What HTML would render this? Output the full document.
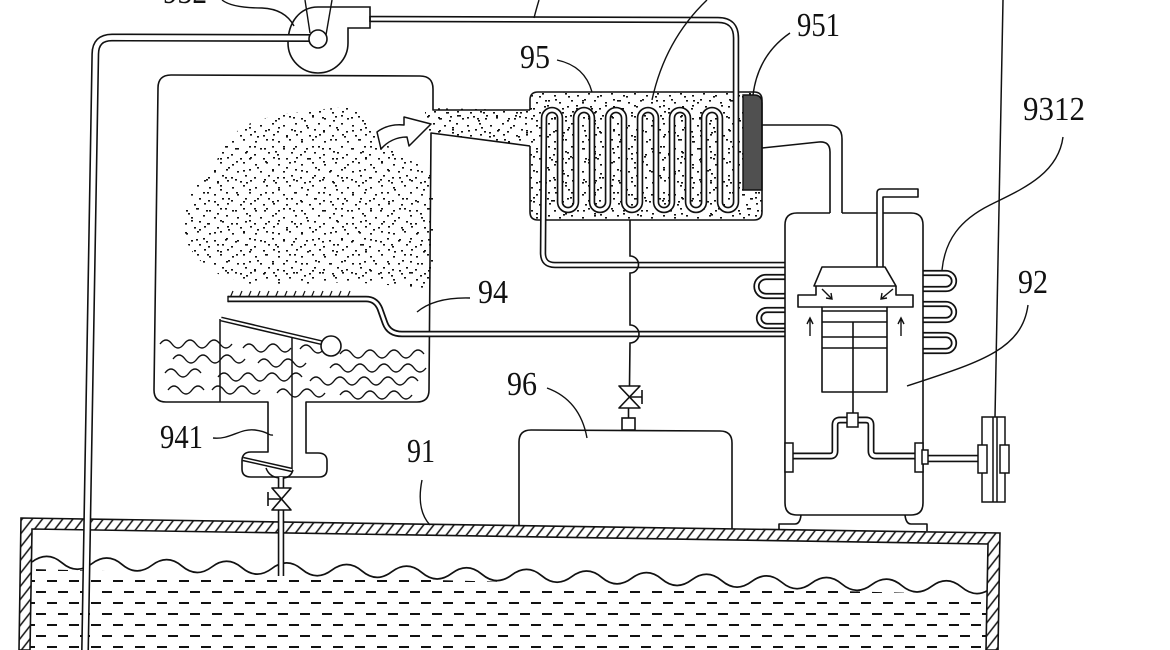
<!DOCTYPE html>
<html><head><meta charset="utf-8"><style>
html,body{margin:0;padding:0;background:#fff;}
svg{display:block;}
text{font-family:"Liberation Serif",serif;font-size:34px;fill:#111;}
</style></head><body>
<svg width="1170" height="650" viewBox="0 0 1170 650" xmlns="http://www.w3.org/2000/svg">
<defs>
<pattern id="dA" width="23" height="23" patternUnits="userSpaceOnUse">
<g fill="#111"><rect x="2" y="3" width="2" height="1.6"/><rect x="13" y="1" width="2" height="1.6"/><rect x="19" y="8" width="2" height="1.6"/><rect x="7" y="10" width="2" height="1.6"/><rect x="15" y="14" width="2" height="1.6"/><rect x="1" y="16" width="2" height="1.6"/><rect x="10" y="20" width="2" height="1.6"/><rect x="20" y="19" width="2" height="1.6"/></g>
</pattern>
<pattern id="dB" width="29" height="31" patternUnits="userSpaceOnUse">
<g fill="#111"><rect x="4" y="6" width="2" height="1.6"/><rect x="17" y="3" width="2" height="1.6"/><rect x="25" y="12" width="2" height="1.6"/><rect x="11" y="15" width="2" height="1.6"/><rect x="22" y="22" width="2" height="1.6"/><rect x="3" y="24" width="2" height="1.6"/><rect x="14" y="27" width="2" height="1.6"/></g>
</pattern>
<pattern id="dC" width="37" height="41" patternUnits="userSpaceOnUse">
<g fill="#111"><rect x="8" y="9" width="2" height="1.6"/><rect x="27" y="18" width="2" height="1.6"/><rect x="15" y="33" width="2" height="1.6"/><rect x="33" y="36" width="2" height="1.6"/><rect x="2" y="30" width="2" height="1.6"/></g>
</pattern>
<pattern id="hatch" width="8" height="8" patternUnits="userSpaceOnUse" patternTransform="rotate(38)">
<line x1="1" y1="0" x2="1" y2="8" stroke="#111" stroke-width="1.5"/>
</pattern>
<pattern id="dash" x="36" y="565" width="22" height="22" patternUnits="userSpaceOnUse">
<rect x="0" y="4" width="10" height="2" fill="#111"/>
<rect x="11" y="15" width="10" height="2" fill="#111"/>
</pattern>
<pattern id="tk" x="229" y="290" width="9" height="8" patternUnits="userSpaceOnUse">
<path d="M1 8 L4 1" stroke="#111" stroke-width="1.2" fill="none"/>
</pattern>
<clipPath id="cloud"><path d="M433 170 L433 290 L400 286 L350 282 L300 284 L250 284 L220 275 C203 265 192 255 186 240 C181 225 184 205 192 192 C200 178 210 168 218 158 C225 145 232 135 242 127 C260 118 280 114 300 112 C318 110 335 107 352 107 C362 110 368 122 378 135 C390 150 405 160 433 170 Z"/></clipPath>
<clipPath id="duct"><path d="M425 108 L531 110 L531 146 L433 133 L425 133 Z"/></clipPath>
<clipPath id="evap"><rect x="530" y="92" width="232" height="128" rx="8"/></clipPath>
<clipPath id="tankin"><path d="M32 529 L988 544 L986 650 L30 650 Z"/></clipPath>
<clipPath id="under"><path d="M32 569 L988 595 L986 650 L30 650 Z"/></clipPath>
<path id="coil" d="M370 19 L718 20 Q736 20 736 38 L736 202 A8 8 0 0 1 720 202 L720 118 A8 8 0 0 0 704 118 L704 202 A8 8 0 0 1 688 202 L688 118 A8 8 0 0 0 672 118 L672 202 A8 8 0 0 1 656 202 L656 118 A8 8 0 0 0 640 118 L640 202 A8 8 0 0 1 624 202 L624 118 A8 8 0 0 0 608 118 L608 202 A8 8 0 0 1 592 202 L592 118 A8 8 0 0 0 576 118 L576 202 A8 8 0 0 1 560 202 L560 118 A8 8 0 0 0 544 118 L543 253 Q543 265 555 265 L785 265"/>
<path id="lpipe" d="M312 38 L112 37.5 Q95.5 37.5 95.3 54 L85 652"/>
<path id="tray" d="M228 299 L366 299 Q376 299 380 309 L385 323 Q389 334 402 334 L785 334"/>
<path id="p941" d="M281 477 L281 488 M281 510 L281 576"/>
<path id="hair" d="M923 273 L946 273 A8 8 0 0 1 946 289 L923 289 M923 304 L946 304 A8 8 0 0 1 946 320 L923 320 M923 335 L946 335 A8 8 0 0 1 946 351 L923 351 M785 277 L766 277 A9.5 9.5 0 0 0 766 296 L785 296 M785 310 L767 310 A8 8 0 0 0 767 326 L785 326"/>
<path id="crank" d="M847 420 L840 420 Q835 420 835 425 L835 451 Q835 456 830 456 L792 456 M858 420 L866 420 Q871 420 871 425 L871 451 Q871 456 876 456 L915 456"/>
<path id="lever" d="M221 319 L323 343"/>
<path id="flap" d="M243 459 L292 470"/>
</defs>

<rect width="1170" height="650" fill="#fff"/>

<!-- ===== water tank 91 ===== -->
<g clip-path="url(#tankin)">
<g transform="rotate(1.55 32 562)">
<path d="M32 562 Q47 550 62 562 t30 0 t30 0 t30 0 t30 0 t30 0 t30 0 t30 0 t30 0 t30 0 t30 0 t30 0 t30 0 t30 0 t30 0 t30 0 t30 0 t30 0 t30 0 t30 0 t30 0 t30 0 t30 0 t30 0 t30 0 t30 0 t30 0 t30 0 t30 0 t30 0 t30 0 t30 0" fill="none" stroke="#111" stroke-width="1.7"/>
</g>
<rect x="20" y="540" width="980" height="112" fill="url(#dash)" clip-path="url(#under)"/>
</g>
<path d="M21 518 L1000 533 L998 650 L986 650 L988 544 L32 529 L30 650 L19 650 Z" fill="#fff"/>
<path d="M21 518 L1000 533 L998 650 L986 650 L988 544 L32 529 L30 650 L19 650 Z" fill="url(#hatch)" stroke="#111" stroke-width="1.6"/>

<!-- ===== stippling ===== -->
<g clip-path="url(#cloud)"><rect x="150" y="100" width="290" height="200" fill="url(#dA)"/><rect x="150" y="100" width="290" height="200" fill="url(#dB)"/></g>
<g clip-path="url(#duct)"><rect x="420" y="100" width="120" height="50" fill="url(#dA)"/><rect x="420" y="100" width="120" height="50" fill="url(#dB)"/><rect x="420" y="100" width="120" height="50" fill="url(#dC)"/></g>
<g clip-path="url(#evap)"><rect x="525" y="88" width="240" height="135" fill="url(#dA)"/><rect x="525" y="88" width="240" height="135" fill="url(#dB)"/><rect x="525" y="88" width="240" height="135" fill="url(#dC)"/></g>

<!-- filter 951 -->
<path d="M743 95 L754 95 Q762 95 762 103 L762 190 L743 190 Z" fill="#505050" stroke="#111" stroke-width="1.4"/>

<g fill="none" stroke="#111" stroke-width="1.6" stroke-linejoin="round">
<path d="M530 110 L433 110 L433 89 Q433 76 420 76 L171 75 Q158 75 158 88 L154 390 Q154 402 166 402 L268 402 L268 452 L251 452 Q242 452 242 461 L242 469 Q242 477 251 477 L319 477 Q327 477 327 469 L327 461 Q327 453 318 453 L306 453 L306 402 L417 402 Q429 402 429 390 L431 133 L530 146"/>
<path d="M530 110 L530 100 Q530 92 538 92 L754 92 Q762 92 762 100 L762 212 Q762 220 754 220 L538 220 Q530 220 530 212 L530 146"/>
</g>

<!-- coil + top pipe -->
<use href="#coil" fill="none" stroke="#111" stroke-width="6.5"/>
<use href="#coil" fill="none" stroke="#fff" stroke-width="3.2"/>

<!-- blower -->
<path d="M370 7 L318 7 C300 7 288 22 288 43 A30 30 0 0 0 348 43 L348 28 L370 28 Z" fill="#fff" stroke="#111" stroke-width="1.6"/>
<line x1="370" y1="16" x2="370" y2="22" stroke="#111" stroke-width="1.6"/>
<use href="#lpipe" fill="none" stroke="#111" stroke-width="8"/>
<use href="#lpipe" fill="none" stroke="#fff" stroke-width="4.8"/>
<circle cx="318" cy="39" r="9" fill="#fff" stroke="#111" stroke-width="1.6"/>
<g fill="none" stroke="#111" stroke-width="1.4">
<path d="M305 0 L310 33"/><path d="M332 0 L326 35"/>
</g>

<!-- arrow -->
<path d="M377 132 C385 126 395 124 404 125 L404 117 L431 124 L409 146 L407 137 C396 137 387 142 381 149 Z" fill="#fff" stroke="#111" stroke-width="1.5" stroke-linejoin="round"/>

<!-- tray pipe -->
<rect x="229" y="290" width="124" height="7" fill="url(#tk)"/>
<use href="#tray" fill="none" stroke="#111" stroke-width="6.5"/>
<use href="#tray" fill="none" stroke="#fff" stroke-width="3"/>
<line x1="228" y1="295.8" x2="228" y2="302.2" stroke="#111" stroke-width="1.4"/>

<!-- chamber water -->
<g fill="none" stroke="#111" stroke-width="1.4">
<path d="M160 344 q6 -8 12 0 t12 0 t12 0 t12 0 t12 0 t12 0"/>
<path d="M243 348 q6 -8 12 0 t12 0 t12 0 t12 0"/>
<path d="M300 349 q6 -8 12 0 t12 0"/>
<path d="M340 354 q6 -8 12 0 t12 0 t12 0 t12 0 t12 0 t12 0 t12 0"/>
<path d="M173 359 q6 -8 12 0 t12 0 t12 0 t12 0 t12 0 t12 0"/>
<path d="M258 363 q6 -8 12 0 t12 0 t12 0 t12 0"/>
<path d="M330 368 q6 -8 12 0 t12 0 t12 0 t12 0 t12 0 t12 0 t12 0 t12 0"/>
<path d="M165 373 q6 -8 12 0 t12 0 t12 0"/>
<path d="M218 377 q6 -8 12 0 t12 0 t12 0 t12 0 t12 0 t12 0 t12 0"/>
<path d="M310 381 q6 -8 12 0 t12 0 t12 0 t12 0 t12 0 t12 0 t12 0 t12 0 t12 0"/>
<path d="M168 390 q6 -8 12 0 t12 0 t12 0"/>
<path d="M212 390 q6 -8 12 0 t12 0 t12 0 t12 0"/>
<path d="M277 393 q6 -8 12 0 t12 0 t12 0 t12 0"/>
<path d="M340 395 q6 -8 12 0 t12 0 t12 0 t12 0 t12 0 t12 0"/>
</g>

<!-- float mechanism -->
<g fill="none" stroke="#111" stroke-width="1.5">
<path d="M220 402 L220 319"/>
<path d="M292 338 L292 472"/>
</g>
<use href="#lever" stroke="#111" stroke-width="5"/>
<use href="#lever" stroke="#fff" stroke-width="2"/>
<circle cx="331" cy="346" r="10" fill="#fff" stroke="#111" stroke-width="1.6"/>
<use href="#flap" stroke="#111" stroke-width="4.5"/>
<use href="#flap" stroke="#fff" stroke-width="1.6"/>
<path d="M266 468 Q270 479 284 478 Q291 477 293 470" fill="none" stroke="#111" stroke-width="1.5"/>

<!-- 941 pipe and valve -->
<use href="#p941" fill="none" stroke="#111" stroke-width="6.5"/>
<use href="#p941" fill="none" stroke="#fff" stroke-width="3.3"/>
<path d="M272 488 L291 488 L272 510 L291 510 Z" fill="#fff" stroke="#111" stroke-width="1.6" stroke-linejoin="round"/>
<path d="M281 499 L268 499 M268 492 L268 506" fill="none" stroke="#111" stroke-width="1.6"/>

<!-- pipe from evaporator to tank 96 -->
<g fill="none" stroke="#111" stroke-width="1.6">
<path d="M630 220 L630 256 A8.5 8.5 0 0 1 630 273 L630 325 A9 9 0 0 1 630 343 L629.5 386"/>
<path d="M619 386 L640 386 L619 408 L640 408 Z" fill="#fff" stroke-linejoin="round"/>
<path d="M629.5 397 L642 397 M642 390 L642 404"/>
<path d="M628.5 408 L628.5 418"/>
<rect x="622" y="418" width="13" height="12" fill="#fff"/>
<path d="M519 526 L519 442 Q519 430 531 430 L720 431 Q732 431 732 443 L732 529"/>
</g>

<!-- compressor -->
<use href="#hair" fill="none" stroke="#111" stroke-width="6.3"/>
<use href="#hair" fill="none" stroke="#fff" stroke-width="2.8"/>
<g fill="none" stroke="#111" stroke-width="1.6" stroke-linejoin="round">
<path d="M762 125 L828 125 Q842 125 842 139 L842 213"/>
<path d="M762 148 L819 142 Q830 141 830 152 L830 213"/>
<path d="M830 213 L797 213 Q785 213 785 225 L785 503 Q785 515 797 515 L911 515 Q923 515 923 503 L923 225 Q923 213 911 213 L883 213 M877 213 L842 213"/>
<path d="M877 267 L877 193 Q877 189 881 189 L918 189 L918 197 L883 197 L883 267"/>
<path d="M822 267 L885 267 L896 286 L814 286 Z"/>
<path d="M816 286 L816 295 L798 295 L798 307 L822 307"/>
<path d="M896 286 L896 295 L913 295 L913 307 L887 307"/>
<rect x="822" y="307" width="65" height="85"/>
<path d="M822 311 L887 311 M822 322 L887 322 M822 337 L887 337 M822 348 L887 348"/>
<path d="M853 322 L853 413"/>
<path d="M779 530 L779 524 L795 524 Q800 524 801 515"/>
<path d="M927 531 L927 524 L911 524 Q906 524 905 515"/>
</g>
<g fill="none" stroke="#111" stroke-width="1.4">
<path d="M822 289 L832 299 M826 298 L832 299 L831 293"/>
<path d="M893 289 L881 299 M887 298 L881 299 L882 293"/>
<path d="M810 336 L810 319 M807 324 L810 318 L813 324"/>
<path d="M901 336 L901 319 M898 324 L901 318 L904 324"/>
</g>
<use href="#crank" fill="none" stroke="#111" stroke-width="7"/>
<use href="#crank" fill="none" stroke="#fff" stroke-width="3.6"/>
<rect x="847" y="413" width="11" height="14" fill="#fff" stroke="#111" stroke-width="1.5"/>
<path d="M928 458.5 L979 458.5" stroke="#111" stroke-width="7.5"/>
<path d="M928 458.5 L979 458.5" stroke="#fff" stroke-width="4.3"/>
<g fill="#fff" stroke="#111" stroke-width="1.5">
<rect x="785" y="443" width="8" height="29"/>
<rect x="915" y="443" width="8" height="29"/>
<rect x="922" y="450" width="6" height="14"/>
<rect x="982" y="417" width="23" height="85"/>
</g>
<g fill="none" stroke="#111" stroke-width="1.5">
<path d="M1003 0 L995 417"/>
<path d="M993 417 L993 502 M997 417 L997 502"/>
</g>
<g fill="#fff" stroke="#111" stroke-width="1.5">
<rect x="978" y="445" width="9" height="28"/>
<rect x="1000" y="445" width="9" height="28"/>
</g>

<!-- leaders -->
<g fill="none" stroke="#111" stroke-width="1.4">
<path d="M222 0 Q232 8 262 8 Q285 9 294 26"/>
<path d="M539 0 Q536 10 534 18"/>
<path d="M707 0 Q665 40 652 100"/>
<path d="M557 60 Q585 66 592 92"/>
<path d="M790 33 Q758 55 753 95"/>
<path d="M1063 137 C1058 175 1020 190 990 205 C960 220 945 240 942 270"/>
<path d="M1028 305 C1022 350 980 362 907 386"/>
<path d="M417 312 Q435 297 470 298"/>
<path d="M547 388 Q580 400 587 438"/>
<path d="M213 438 C230 440 240 428 255 430 S268 436 273 435"/>
<path d="M422 480 Q416 510 430 525"/>
</g>

<!-- labels -->
<text x="163" y="3" textLength="44" lengthAdjust="spacingAndGlyphs">932</text>
<text x="520" y="68" textLength="30" lengthAdjust="spacingAndGlyphs">95</text>
<text x="797" y="36" textLength="43" lengthAdjust="spacingAndGlyphs">951</text>
<text x="1023" y="120" textLength="62" lengthAdjust="spacingAndGlyphs">9312</text>
<text x="1018" y="293" textLength="30" lengthAdjust="spacingAndGlyphs">92</text>
<text x="478" y="303" textLength="30" lengthAdjust="spacingAndGlyphs">94</text>
<text x="507" y="395" textLength="30" lengthAdjust="spacingAndGlyphs">96</text>
<text x="160" y="448" textLength="43" lengthAdjust="spacingAndGlyphs">941</text>
<text x="407" y="462" textLength="28" lengthAdjust="spacingAndGlyphs">91</text>
</svg>
</body></html>
